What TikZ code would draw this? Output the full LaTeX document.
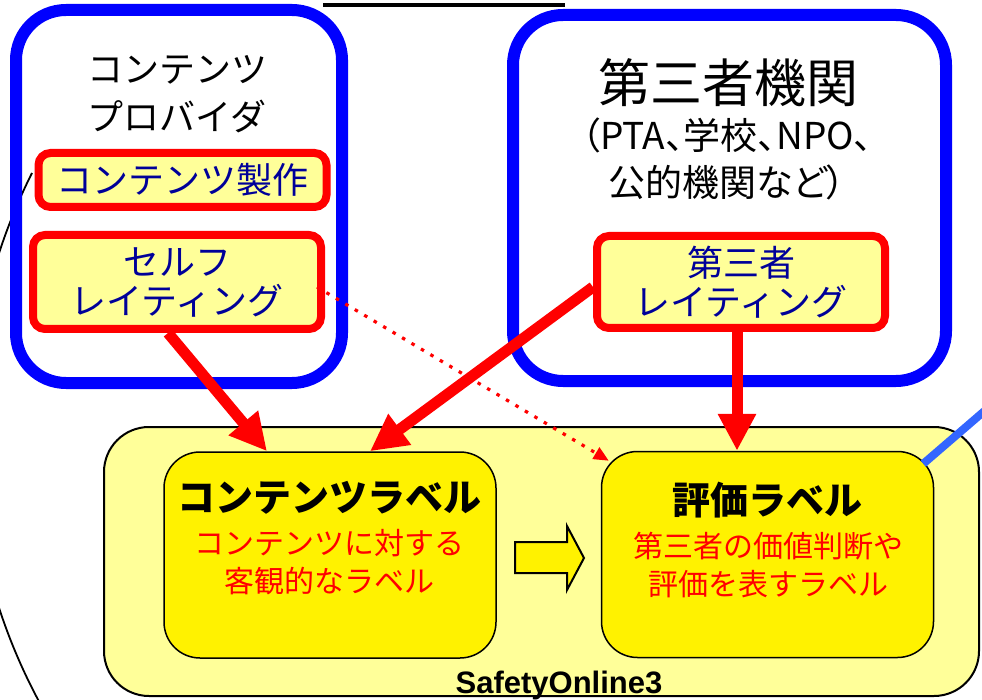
\documentclass[tikz,border=0pt]{standalone}
\usepackage{fontspec}
\setmainfont{Liberation Sans}
\newfontfamily\jp{Noto Sans CJK JP}
\newfontfamily\jpp{Noto Sans CJK JP}[RawFeature=+palt]
\usetikzlibrary{arrows.meta}
\definecolor{boxblue}{RGB}{0,0,255}
\definecolor{navytext}{RGB}{0,0,153}
\definecolor{paleyellow}{RGB}{255,255,153}
\definecolor{linkblue}{RGB}{51,102,255}
\begin{document}
\begin{tikzpicture}[x=1pt,y=-1pt,
  orgbox/.style={draw=boxblue,line width=12pt,rounded corners=50pt,inner sep=0pt},
  ratebox/.style={draw=red,line width=8pt,fill=paleyellow,rounded corners=12pt,
    minimum width=288pt,inner sep=0pt,align=center,text=navytext,
    font=\jp\fontsize{36}{39}\selectfont},
  outerbox/.style={draw=black,line width=2pt,fill=paleyellow,rounded corners=45pt,inner sep=0pt},
  labelbox/.style={draw=black,line width=1.5pt,fill=yellow,rounded corners=36pt,
    minimum width=332pt,minimum height=206pt,inner sep=0pt},
  labeltitle/.style={inner sep=0pt,font=\jp\bfseries\fontsize{38}{38}\selectfont},
  labeltext/.style={inner sep=0pt,align=center,text=red,font=\jp\fontsize{30}{38}\selectfont},
  redarrow/.style={draw=red,line width=11pt,-{Triangle[length=37pt,width=36pt]}},
  dotarrow/.style={draw=red,line width=3.2pt,dash pattern=on 3.5pt off 7.5pt,-{Triangle[length=15pt,width=13pt]}},
  blockarrow/.style={draw=black,line width=2pt,fill=yellow,line join=miter}
]
\useasboundingbox (0,0) rectangle (982,700);
\clip (0,0) rectangle (982,700);

% big background arc
\draw[line width=1.8pt] (32,173) arc[start angle=206.7,end angle=148,radius=573];

% top underline
\draw[line width=3.5pt] (323,5) -- (565,5);

% SafetyOnline3 area
\node[outerbox,minimum width=875pt,minimum height=269pt] (so) at (541.5,561.5) {};
\node[labelbox] (clabel) at (330,555) {};
\node[labelbox] (hyoka) at (767.5,554.5) {};
\node[labeltitle] (cltitle) at (329,498) {コンテンツラベル};
\node[labeltext] (cltext) at (329.5,562) {コンテンツに対する\\客観的なラベル};
\node[labeltitle] (hytitle) at (767.5,500) {評価ラベル};
\node[labeltext] (hytext) at (768,565) {第三者の価値判断や\\評価を表すラベル};
\node[inner sep=0pt,anchor=base,font=\bfseries\fontsize{31}{31}\selectfont] (sol) at (559,693) {SafetyOnline3};

% block arrow between labels
\draw[blockarrow] (515,542) -- (567,542) -- (567,526) -- (584,558) -- (567,590) -- (567,573) -- (515,573) -- cycle;

% link line to the right
\coordinate (linkend) at (1010,389);
\draw[draw=linkblue,line width=8pt] ([xshift=-11pt,yshift=-13pt]hyoka.north east) -- (linkend);

% organisation boxes
\node[orgbox,minimum width=326pt,minimum height=373pt] (cp) at (179,196.5) {};
\node[orgbox,minimum width=433pt,minimum height=366pt] (tp) at (729.5,198) {};
\node[inner sep=0pt,align=center,font=\jp\fontsize{36}{48}\selectfont] (cptitle) at (177,94) {コンテンツ\\プロバイダ};
\node[inner sep=0pt,font=\jp\fontsize{52}{52}\selectfont] (tptitle) at (728,83) {第三者機関};
\node[inner sep=0pt,align=center,font=\jpp\fontsize{37}{47}\selectfont] (tpsub) at (727,158.5) {（PTA、学校、NPO、\\公的機関など）};

% rating boxes
\node[ratebox,minimum height=54pt] (make) at (182.5,180) {コンテンツ製作};
\node[ratebox,minimum height=94pt] (self) at (177,282) {セルフ\\レイティング};
\node[ratebox,minimum height=92pt] (third) at (741,282) {第三者\\レイティング};

% arrows
\draw[redarrow] ([xshift=-9pt]self.south) -- ([xshift=-63pt]clabel.north);
\draw[redarrow] ([yshift=-5pt]third.west) -- ([xshift=40pt]clabel.north);
\draw[redarrow] ([xshift=-4pt]third.south) -- ([xshift=-30.5pt]hyoka.north);
\draw[dotarrow] ([xshift=-8pt,yshift=-5pt]self.east) -- ([xshift=8pt,yshift=-10pt]hyoka.north west);
\end{tikzpicture}
\end{document}
